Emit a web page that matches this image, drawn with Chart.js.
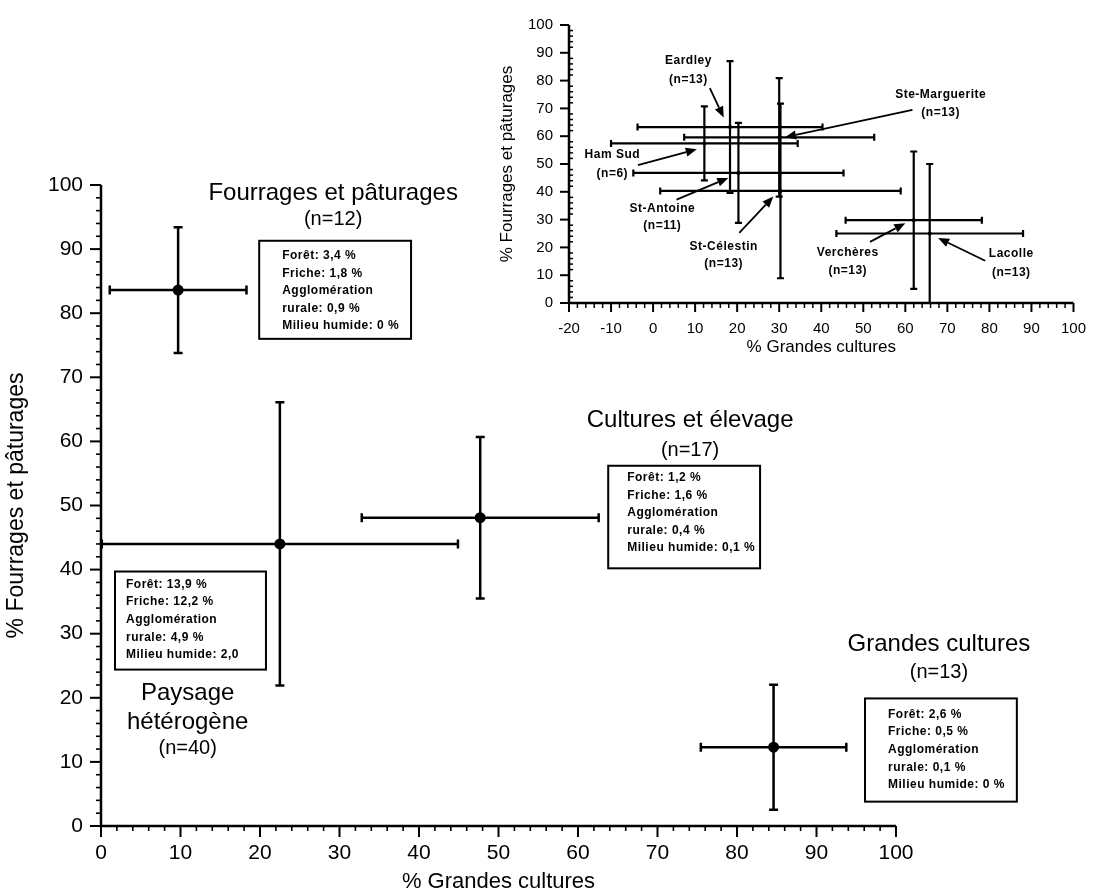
<!DOCTYPE html>
<html><head><meta charset="utf-8">
<script src="https://cdn.jsdelivr.net/npm/chart.js@4"></script>
<style>
html,body{margin:0;padding:0;background:#fff;}
#wrap{position:relative;width:1103px;height:896px;overflow:hidden;}
#main{position:absolute;left:0;top:0;}
#inset{position:absolute;left:470px;top:0;}
</style></head><body>
<div id="wrap">
<canvas id="main" width="1103" height="896"></canvas>
<canvas id="inset" width="633" height="362"></canvas>
</div>
<script>
// ---------- main chart data ----------
const groupName1 = ['Fourrages et pâturages', 'Paysage', 'Cultures et élevage', 'Grandes cultures'];
const groupName2 = ['', 'hétérogène', '', ''];
const groupN = [12, 40, 17, 13];
const grandesCultures = [9.7, 22.5, 47.7, 84.6];
const fourragesPaturages = [83.6, 44.0, 48.1, 12.3];
const grandesCulturesErr = [8.6, 22.4, 14.9, 9.15];
const fourragesPaturagesErr = [9.8, 22.1, 12.6, 9.75];
const foret = ['3,4 %', '13,9 %', '1,2 %', '2,6 %'];
const friche = ['1,8 %', '12,2 %', '1,6 %', '0,5 %'];
const agglo = ['0,9 %', '4,9 %', '0,4 %', '0,1 %'];
const milieuHumide = ['0 %', '2,0', '0,1 %', '0 %'];
const mainXTicks = [0, 10, 20, 30, 40, 50, 60, 70, 80, 90, 100];
const mainYTicks = [0, 10, 20, 30, 40, 50, 60, 70, 80, 90, 100];

// ---------- inset data ----------
const sites = ['Eardley', 'Ste-Marguerite', 'Ham Sud', 'St-Antoine', 'St-Célestin', 'Verchères', 'Lacolle'];
const siteN = [13, 13, 6, 11, 13, 13, 13];
const siteX = [18.3, 30.0, 12.2, 20.3, 30.3, 62.0, 65.8];
const siteY = [63.3, 59.6, 57.4, 46.8, 40.3, 29.8, 25.0];
const siteXErr = [22.0, 22.6, 22.2, 25.0, 28.6, 16.2, 22.2];
const siteYErr = [23.7, 21.3, 13.3, 18.0, 31.4, 24.7, 25.0];
const insetXTicks = [-20, -10, 0, 10, 20, 30, 40, 50, 60, 70, 80, 90, 100];
const insetYTicks = [0, 10, 20, 30, 40, 50, 60, 70, 80, 90, 100];

// ---------- annotation placement (data units) ----------
const boxPos = [
  {x0: 19.9, x1: 39.0, yT: 91.3, yB: 76.0, dx: 23, dy: 15},
  {x0: 1.76, x1: 20.75, yT: 39.7, yB: 24.4, dx: 11, dy: 13},
  {x0: 63.8, x1: 82.9, yT: 56.2, yB: 40.2, dx: 19, dy: 12},
  {x0: 96.1, x1: 115.2, yT: 19.9, yB: 3.8, dx: 23, dy: 16}
];
const titlePos = [
  {x: 29.2, y: [98.7, 94.6]},
  {x: 10.9, y: [20.7, 16.2, 12.1]},
  {x: 74.1, y: [63.3, 58.6]},
  {x: 105.4, y: [28.4, 23.9]}
];
const sitePos = [
  {x: 8.4, y1: 87.2, y2: 80.5, a: [13.5, 77.3, 16.8, 66.7]},
  {x: 68.4, y1: 74.8, y2: 68.4, a: [61.7, 69.5, 31.4, 59.6]},
  {x: -9.7, y1: 53.5, y2: 46.5, a: [-3.6, 49.6, 10.4, 55.3]},
  {x: 2.2, y1: 34.0, y2: 27.7, a: [5.6, 37.2, 17.9, 45.0]},
  {x: 16.8, y1: 20.2, y2: 14.2, a: [20.5, 25.2, 28.6, 38.3]},
  {x: 46.3, y1: 18.1, y2: 11.7, a: [51.6, 22.0, 60.0, 28.7]},
  {x: 85.2, y1: 17.7, y2: 11.0, a: [79.0, 15.2, 67.8, 23.4]}
];

const FAM = '"Liberation Sans", Arial, Helvetica, sans-serif';

function drawErrBars(chart, xv, yv, xe, ye, lw, cap) {
  const ctx = chart.ctx;
  const sx = chart.scales.x, sy = chart.scales.y;
  ctx.save();
  ctx.strokeStyle = '#000';
  ctx.lineWidth = lw;
  ctx.lineCap = 'butt';
  for (let i = 0; i < xv.length; i++) {
    const cx = sx.getPixelForValue(xv[i]), cy = sy.getPixelForValue(yv[i]);
    const xl = sx.getPixelForValue(Math.max(sx.min, xv[i] - xe[i]));
    const xr = sx.getPixelForValue(Math.min(sx.max, xv[i] + xe[i]));
    const yt = sy.getPixelForValue(Math.min(sy.max, yv[i] + ye[i]));
    const yb = sy.getPixelForValue(Math.max(sy.min, yv[i] - ye[i]));
    ctx.beginPath();
    ctx.moveTo(xl, cy); ctx.lineTo(xr, cy);
    ctx.moveTo(cx, yt); ctx.lineTo(cx, yb);
    ctx.moveTo(xl, cy - cap); ctx.lineTo(xl, cy + cap);
    ctx.moveTo(xr, cy - cap); ctx.lineTo(xr, cy + cap);
    ctx.moveTo(cx - cap, yt); ctx.lineTo(cx + cap, yt);
    ctx.moveTo(cx - cap, yb); ctx.lineTo(cx + cap, yb);
    ctx.stroke();
  }
  ctx.restore();
}

function drawAxes(chart, o) {
  const ctx = chart.ctx;
  const sx = chart.scales.x, sy = chart.scales.y;
  const a = chart.chartArea;
  ctx.save();
  ctx.strokeStyle = '#000';
  ctx.lineWidth = o.axisW;
  ctx.beginPath();
  ctx.moveTo(a.left, a.top); ctx.lineTo(a.left, a.bottom); ctx.lineTo(a.right, a.bottom);
  ctx.stroke();
  for (let v = sx.min; v <= sx.max + 1e-9; v += o.minor) {
    const major = Math.abs(v % 10) < 1e-6;
    const px = sx.getPixelForValue(v);
    ctx.lineWidth = major ? o.majW : o.minW;
    ctx.beginPath();
    ctx.moveTo(px, a.bottom);
    ctx.lineTo(px, a.bottom + (major ? o.xMaj : o.xMin));
    ctx.stroke();
  }
  for (let v = sy.min; v <= sy.max + 1e-9; v += o.minor) {
    const major = Math.abs(v % 10) < 1e-6;
    const py = sy.getPixelForValue(v);
    ctx.lineWidth = major ? o.majW : o.minW;
    ctx.beginPath();
    if (major) { ctx.moveTo(a.left, py); ctx.lineTo(a.left - o.yMaj, py); }
    else { ctx.moveTo(a.left + o.yMinIn, py); ctx.lineTo(a.left - o.yMinOut, py); }
    ctx.stroke();
  }
  ctx.restore();
}

const mainPlugin = {
  id: 'mainDecor',
  beforeDraw(chart) {
    const ctx = chart.ctx;
    ctx.save(); ctx.fillStyle = '#fff'; ctx.fillRect(0, 0, chart.width, chart.height); ctx.restore();
  },
  beforeDatasetsDraw(chart) {
    drawErrBars(chart, grandesCultures, fourragesPaturages, grandesCulturesErr, fourragesPaturagesErr, 2.5, 4.5);
  },
  afterDraw(chart) {
    const ctx = chart.ctx;
    const sx = chart.scales.x, sy = chart.scales.y;
    drawAxes(chart, {axisW: 2.5, minor: 2, majW: 2, minW: 1.6, xMaj: 11, xMin: 5, yMaj: 11, yMinOut: 5, yMinIn: 0});
    ctx.save();
    ctx.fillStyle = '#000';
    ctx.strokeStyle = '#000';
    for (let i = 0; i < boxPos.length; i++) {
      const b = boxPos[i];
      const x0 = sx.getPixelForValue(b.x0), x1 = sx.getPixelForValue(b.x1);
      const y0 = sy.getPixelForValue(b.yT), y1 = sy.getPixelForValue(b.yB);
      ctx.fillStyle = '#fff';
      ctx.fillRect(x0, y0, x1 - x0, y1 - y0);
      ctx.lineWidth = 2;
      ctx.strokeRect(x0, y0, x1 - x0, y1 - y0);
      ctx.fillStyle = '#000';
      ctx.font = 'bold 12px ' + FAM;
      ctx.letterSpacing = '0.5px';
      ctx.textAlign = 'left';
      ctx.textBaseline = 'middle';
      const lines = ['Forêt: ' + foret[i], 'Friche: ' + friche[i], 'Agglomération', 'rurale: ' + agglo[i], 'Milieu humide: ' + milieuHumide[i]];
      lines.forEach((t, k) => ctx.fillText(t, x0 + b.dx, y0 + b.dy + k * 17.6));
    }
    ctx.letterSpacing = '0px';
    ctx.textAlign = 'center';
    ctx.textBaseline = 'middle';
    for (let i = 0; i < titlePos.length; i++) {
      const p = titlePos[i];
      const px = sx.getPixelForValue(p.x);
      const lines = [groupName1[i]];
      if (groupName2[i]) lines.push(groupName2[i]);
      lines.push('(n=' + groupN[i] + ')');
      lines.forEach((t, k) => {
        ctx.font = (k === lines.length - 1 ? '20px ' : '24px ') + FAM;
        ctx.fillText(t, px, sy.getPixelForValue(p.y[k]));
      });
    }
    ctx.restore();
  }
};

const insetPlugin = {
  id: 'insetDecor',
  beforeDatasetsDraw(chart) {
    drawErrBars(chart, siteX, siteY, siteXErr, siteYErr, 2.2, 3.5);
  },
  afterDraw(chart) {
    const ctx = chart.ctx;
    const sx = chart.scales.x, sy = chart.scales.y;
    drawAxes(chart, {axisW: 2.5, minor: 2, majW: 2, minW: 1.5, xMaj: 9, xMin: 5, yMaj: 9, yMinOut: 0, yMinIn: 4});
    ctx.save();
    ctx.fillStyle = '#000'; ctx.strokeStyle = '#000';
    ctx.textAlign = 'center'; ctx.textBaseline = 'middle';
    ctx.font = 'bold 12px ' + FAM;
    ctx.letterSpacing = '0.5px';
    for (let i = 0; i < sites.length; i++) {
      const p = sitePos[i];
      const px = sx.getPixelForValue(p.x);
      ctx.fillText(sites[i], px, sy.getPixelForValue(p.y1));
      ctx.fillText('(n=' + siteN[i] + ')', px, sy.getPixelForValue(p.y2));
      const x1 = sx.getPixelForValue(p.a[0]), y1 = sy.getPixelForValue(p.a[1]);
      const x2 = sx.getPixelForValue(p.a[2]), y2 = sy.getPixelForValue(p.a[3]);
      ctx.lineWidth = 1.8;
      ctx.beginPath(); ctx.moveTo(x1, y1);
      const ang = Math.atan2(y2 - y1, x2 - x1);
      const hl = 11, hw = 4.5;
      const bx = x2 - hl * Math.cos(ang), by = y2 - hl * Math.sin(ang);
      ctx.lineTo(bx, by); ctx.stroke();
      ctx.beginPath();
      ctx.moveTo(x2, y2);
      ctx.lineTo(bx + hw * Math.sin(ang), by - hw * Math.cos(ang));
      ctx.lineTo(bx - hw * Math.sin(ang), by + hw * Math.cos(ang));
      ctx.closePath(); ctx.fill();
    }
    ctx.restore();
  }
};

function scaleCfg(min, max, ticksArr, fontSize, pad, title, titleSize, titlePad, fitProp, fitVal) {
  return {
    type: 'linear', min: min, max: max,
    afterBuildTicks(s) { s.ticks = ticksArr.map(v => ({value: v})); },
    afterFit(s) { s[fitProp] = fitVal; },
    ticks: {color: '#000', padding: pad, font: {family: FAM, size: fontSize}, maxRotation: 0, autoSkip: false},
    grid: {display: false, drawTicks: false},
    border: {display: false},
    title: {display: true, text: title, color: '#000', font: {family: FAM, size: titleSize}, padding: titlePad}
  };
}

new Chart(document.getElementById('main'), {
  type: 'scatter',
  data: {datasets: [{
    data: grandesCultures.map((v, i) => ({x: v, y: fourragesPaturages[i]})),
    pointRadius: 5.5, pointBackgroundColor: '#000', pointBorderColor: '#000', pointBorderWidth: 0
  }]},
  options: {
    responsive: false, animation: false, devicePixelRatio: 1,
    layout: {padding: {left: 0, right: 207, top: 185, bottom: 0}},
    plugins: {legend: {display: false}, tooltip: {enabled: false}},
    scales: {
      x: scaleCfg(0, 100, mainXTicks, 21, 15, '% Grandes cultures', 22, {top: 0, bottom: 1}, 'height', 70),
      y: scaleCfg(0, 100, mainYTicks, 21, 18, '% Fourrages et pâturages', 23, {top: 3, bottom: 0}, 'width', 101)
    }
  },
  plugins: [mainPlugin]
});

new Chart(document.getElementById('inset'), {
  type: 'scatter',
  data: {datasets: [{
    data: siteX.map((v, i) => ({x: v, y: siteY[i]})),
    pointRadius: 2, pointBackgroundColor: '#000', pointBorderColor: '#000', pointBorderWidth: 0
  }]},
  options: {
    responsive: false, animation: false, devicePixelRatio: 1,
    layout: {padding: {left: 26, right: 18, top: 21, bottom: 0}},
    plugins: {legend: {display: false}, tooltip: {enabled: false}},
    scales: {
      x: scaleCfg(-20, 100, insetXTicks, 15, 17, '% Grandes cultures', 17, {top: 0, bottom: 4}, 'height', 59),
      y: scaleCfg(0, 100, insetYTicks, 15, 16, '% Fourrages et pâturages', 17, {top: 1, bottom: 0}, 'width', 73)
    }
  },
  plugins: [insetPlugin]
});
</script>
</body></html>
